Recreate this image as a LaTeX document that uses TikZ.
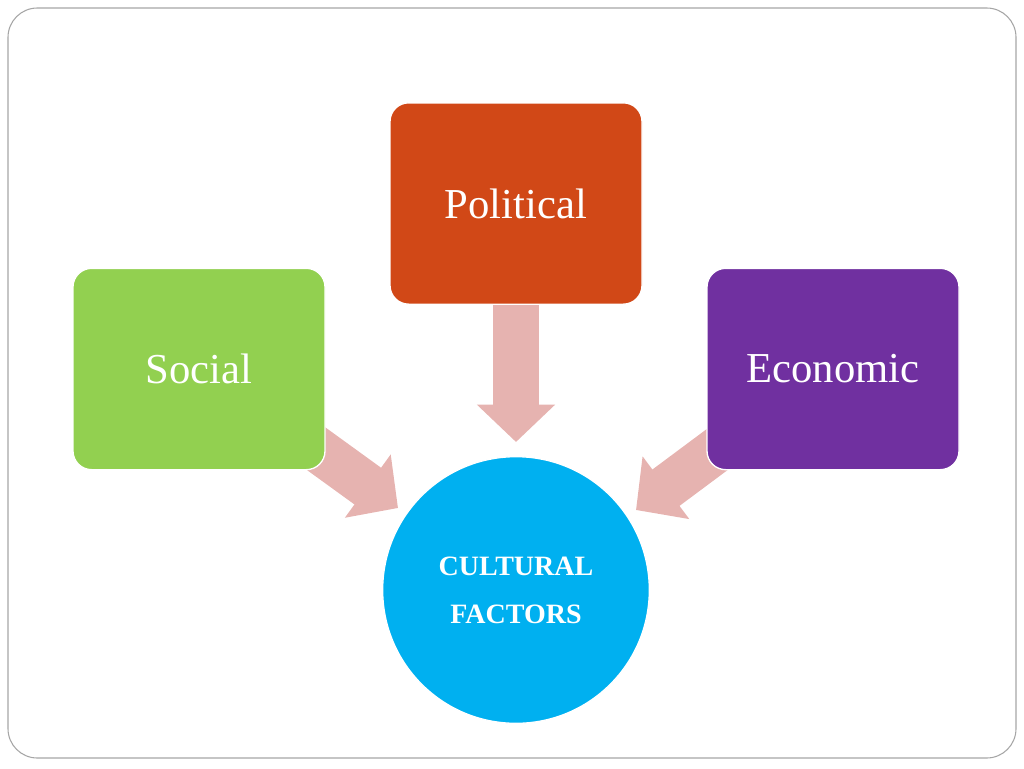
\documentclass[tikz,border=0pt]{standalone}
\usepackage{fontspec}
\setmainfont{Liberation Serif}
\usetikzlibrary{arrows.meta}
\definecolor{polc}{HTML}{D14817}
\definecolor{socc}{HTML}{92D050}
\definecolor{ecoc}{HTML}{7030A0}
\definecolor{culc}{HTML}{00B0F0}
\definecolor{arrc}{HTML}{E6B3B0}
\begin{document}
\begin{tikzpicture}[x=0.75pt,y=-0.75pt,
  box/.style={draw=white,line width=1pt,rounded corners=14pt,minimum width=189pt,minimum height=151pt,text=white,font=\fontsize{32}{36}\selectfont},
  fat/.style={draw=arrc,line width=34pt,-{Triangle[width=57pt,length=28pt]}}]
\useasboundingbox (0,0) rectangle (1024,768);
\draw[gray!70,line width=0.8pt,rounded corners=22pt] (8,8) rectangle (1016,758);
\coordinate (pa) at (516,300); \coordinate (pt) at (516,442);
\coordinate (sa) at (300,437); \coordinate (st) at (398,508);
\coordinate (ea) at (730,440); \coordinate (et) at (636,510);
\draw[fat] (pa) -- (pt);
\draw[fat] (sa) -- (st);
\draw[fat] (ea) -- (et);
\node[box,fill=polc] (pol) at (516,203.5) {Political};
\node[box,fill=socc] (soc) at (199,369) {Social};
\node[box,fill=ecoc] (eco) at (833,369) {Economic};
\node[circle,fill=culc,draw=white,line width=1pt,minimum size=200pt,text=white,align=center,font=\bfseries\fontsize{21}{36}\selectfont] (cul) at (516,590) {CULTURAL\\FACTORS};
\end{tikzpicture}
\end{document}
